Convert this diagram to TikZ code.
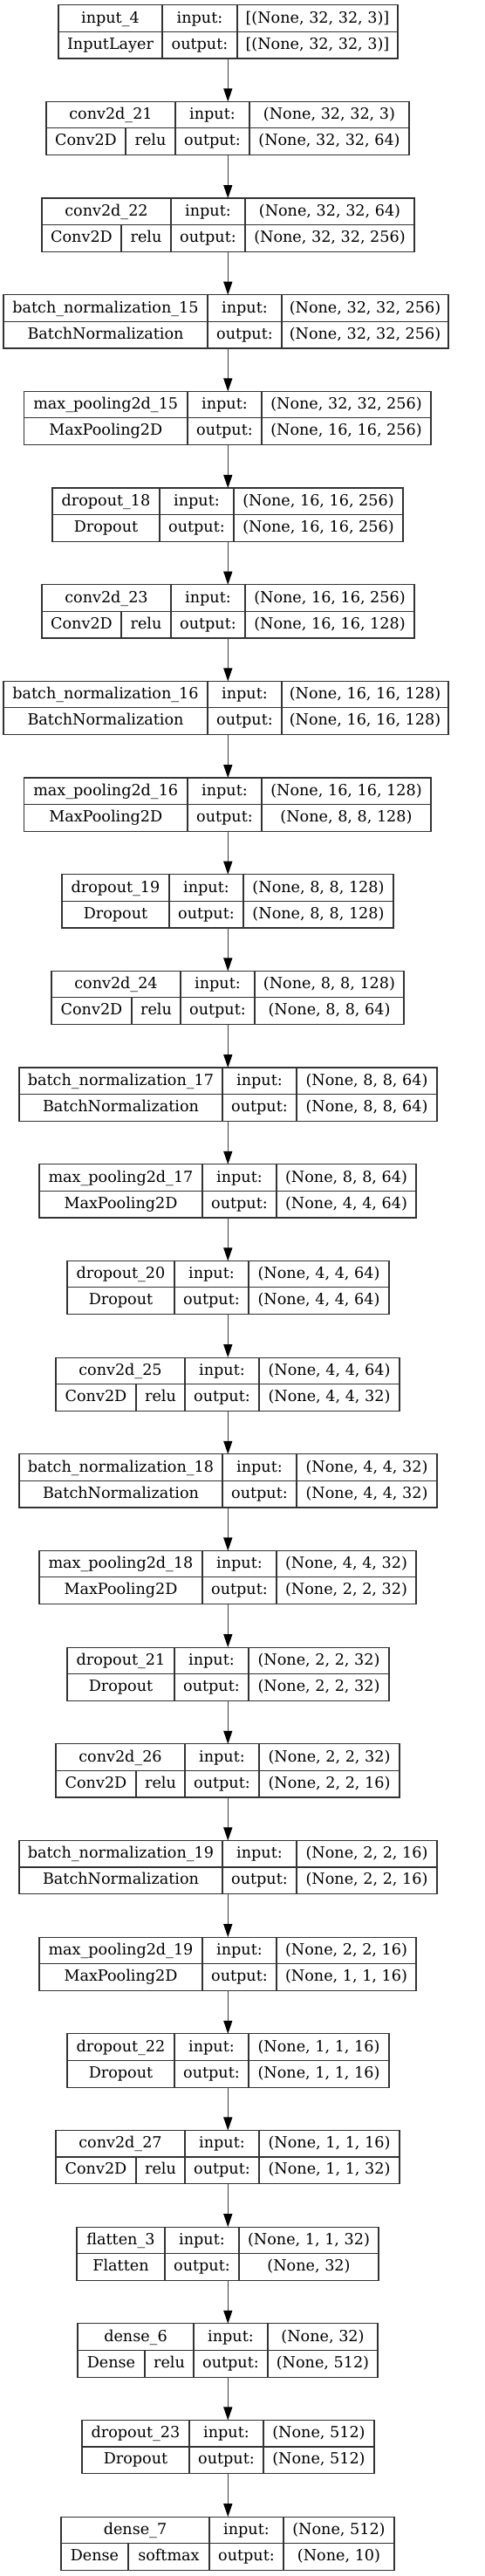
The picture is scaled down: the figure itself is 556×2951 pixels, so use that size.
\documentclass[tikz,border=0pt]{standalone}
\usepackage{fontspec}
\setmainfont{DejaVu Serif}
\usetikzlibrary{arrows.meta}
\tikzset{
  kframe/.style={draw=black!80, line width=1.2pt, inner sep=0pt, outer sep=0pt},
  kgrid/.style={draw=black!80, line width=1.1pt},
  ktext/.style={inner sep=0pt, anchor=base, font=\fontsize{17.6}{20}\selectfont},
  karrow/.style={draw=black!75, line width=1.3pt, -{Triangle[length=15pt,width=10pt,color=black]}},
}
\newcommand\kbox[9]{%
  \pgfmathsetmacro\kT{5.7+#1*110.67}%
  \pgfmathsetmacro\kB{\kT+61.3}%
  \pgfmathsetmacro\kM{\kT+30.5}%
  \pgfmathsetmacro\kW{#3-#2}%
  \pgfmathsetmacro\kX{(#2+#3)/2}%
  \pgfmathsetmacro\kY{\kT+30.65}%
  \pgfmathsetmacro\kA{\kT+20.5}%
  \pgfmathsetmacro\kC{\kM+20}%
  \node[kframe, minimum width=\kW pt, minimum height=61.3pt] (b#1) at (\kX,\kY) {};
  \draw[kgrid] (#2,\kM) -- (#3,\kM) (#4,\kT) -- (#4,\kB) (#5,\kT) -- (#5,\kB);
  \node[ktext] (b#1name) at ({(#2+#4)/2},\kA) {#6};
  \node[ktext] (b#1in) at ({(#4+#5)/2},\kA) {input:};
  \node[ktext] (b#1iv) at ({(#5+#3)/2},\kA) {#8};
  \node[ktext] (b#1out) at ({(#4+#5)/2},\kC) {output:};
  \node[ktext] (b#1ov) at ({(#5+#3)/2},\kC) {#9};
  \node[ktext] (b#1cls) at ({(#2+#4)/2},\kC) {#7};
}
\newcommand\kact[6]{%
  \pgfmathsetmacro\kT{5.7+#1*110.67}%
  \pgfmathsetmacro\kB{\kT+61.3}%
  \pgfmathsetmacro\kM{\kT+30.5}%
  \pgfmathsetmacro\kC{\kM+20}%
  \draw[kgrid] (#3,\kM) -- (#3,\kB);
  \node[ktext] (b#1typ) at ({(#2+#3)/2},\kC) {#5};
  \node[ktext] (b#1act) at ({(#3+#4)/2},\kC) {#6};
}
\begin{document}
\begin{tikzpicture}[x=1pt,y=-1pt]
\fill[white] (0,0) rectangle (556,2951);
\useasboundingbox (0,0) rectangle (556,2951);
\coordinate (ax) at (261.3,0);

\kbox{0}{67}{456}{186}{272}{input\_4}{InputLayer}{[(None, 32, 32, 3)]}{[(None, 32, 32, 3)]}
\kbox{1}{53}{469}{201}{286}{conv2d\_21}{}{(None, 32, 32, 3)}{(None, 32, 32, 64)}
\kact{1}{53}{144}{201}{Conv2D}{relu}
\kbox{2}{48}{475}{196}{281}{conv2d\_22}{}{(None, 32, 32, 64)}{(None, 32, 32, 256)}
\kact{2}{48}{139}{196}{Conv2D}{relu}
\kbox{3}{4}{514}{238}{323}{batch\_normalization\_15}{BatchNormalization}{(None, 32, 32, 256)}{(None, 32, 32, 256)}
\kbox{4}{27.5}{494}{215}{300}{max\_pooling2d\_15}{MaxPooling2D}{(None, 32, 32, 256)}{(None, 16, 16, 256)}
\kbox{5}{60}{462}{183}{268}{dropout\_18}{Dropout}{(None, 16, 16, 256)}{(None, 16, 16, 256)}
\kbox{6}{48}{475}{196}{281}{conv2d\_23}{}{(None, 16, 16, 256)}{(None, 16, 16, 128)}
\kact{6}{48}{139}{196}{Conv2D}{relu}
\kbox{7}{4}{514}{238}{323}{batch\_normalization\_16}{BatchNormalization}{(None, 16, 16, 128)}{(None, 16, 16, 128)}
\kbox{8}{27.5}{494}{215}{300}{max\_pooling2d\_16}{MaxPooling2D}{(None, 16, 16, 128)}{(None, 8, 8, 128)}
\kbox{9}{71}{451}{194}{279}{dropout\_19}{Dropout}{(None, 8, 8, 128)}{(None, 8, 8, 128)}
\kbox{10}{59}{463}{207}{292}{conv2d\_24}{}{(None, 8, 8, 128)}{(None, 8, 8, 64)}
\kact{10}{59}{151}{207}{Conv2D}{relu}
\kbox{11}{22}{501}{255}{340}{batch\_normalization\_17}{BatchNormalization}{(None, 8, 8, 64)}{(None, 8, 8, 64)}
\kbox{12}{45}{477}{232}{317}{max\_pooling2d\_17}{MaxPooling2D}{(None, 8, 8, 64)}{(None, 4, 4, 64)}
\kbox{13}{77}{446}{200}{285}{dropout\_20}{Dropout}{(None, 4, 4, 64)}{(None, 4, 4, 64)}
\kbox{14}{64}{458}{212}{297}{conv2d\_25}{}{(None, 4, 4, 64)}{(None, 4, 4, 32)}
\kact{14}{64}{156}{212}{Conv2D}{relu}
\kbox{15}{22}{501}{255}{340}{batch\_normalization\_18}{BatchNormalization}{(None, 4, 4, 32)}{(None, 4, 4, 32)}
\kbox{16}{45}{477}{232}{317}{max\_pooling2d\_18}{MaxPooling2D}{(None, 4, 4, 32)}{(None, 2, 2, 32)}
\kbox{17}{77}{446}{200}{285}{dropout\_21}{Dropout}{(None, 2, 2, 32)}{(None, 2, 2, 32)}
\kbox{18}{64}{458}{212}{297}{conv2d\_26}{}{(None, 2, 2, 32)}{(None, 2, 2, 16)}
\kact{18}{64}{156}{212}{Conv2D}{relu}
\kbox{19}{22}{501}{255}{340}{batch\_normalization\_19}{BatchNormalization}{(None, 2, 2, 16)}{(None, 2, 2, 16)}
\kbox{20}{45}{477}{232}{317}{max\_pooling2d\_19}{MaxPooling2D}{(None, 2, 2, 16)}{(None, 1, 1, 16)}
\kbox{21}{77}{446}{200}{285}{dropout\_22}{Dropout}{(None, 1, 1, 16)}{(None, 1, 1, 16)}
\kbox{22}{64}{458}{212}{297}{conv2d\_27}{}{(None, 1, 1, 16)}{(None, 1, 1, 32)}
\kact{22}{64}{156}{212}{Conv2D}{relu}
\kbox{23}{88}{434}{189}{274}{flatten\_3}{Flatten}{(None, 1, 1, 32)}{(None, 32)}
\kbox{24}{89}{433}{222}{307}{dense\_6}{}{(None, 32)}{(None, 512)}
\kact{24}{89}{166}{222}{Dense}{relu}
\kbox{25}{94}{429}{217}{302}{dropout\_23}{Dropout}{(None, 512)}{(None, 512)}
\kbox{26}{70}{452}{240}{325}{dense\_7}{}{(None, 512)}{(None, 10)}
\kact{26}{70}{147}{240}{Dense}{softmax}

\foreach \i [evaluate=\i as \j using int(\i+1)] in {0,...,25}{
  \draw[karrow] (b\i.south -| ax) -- (b\j.north -| ax);
}
\end{tikzpicture}
\end{document}
